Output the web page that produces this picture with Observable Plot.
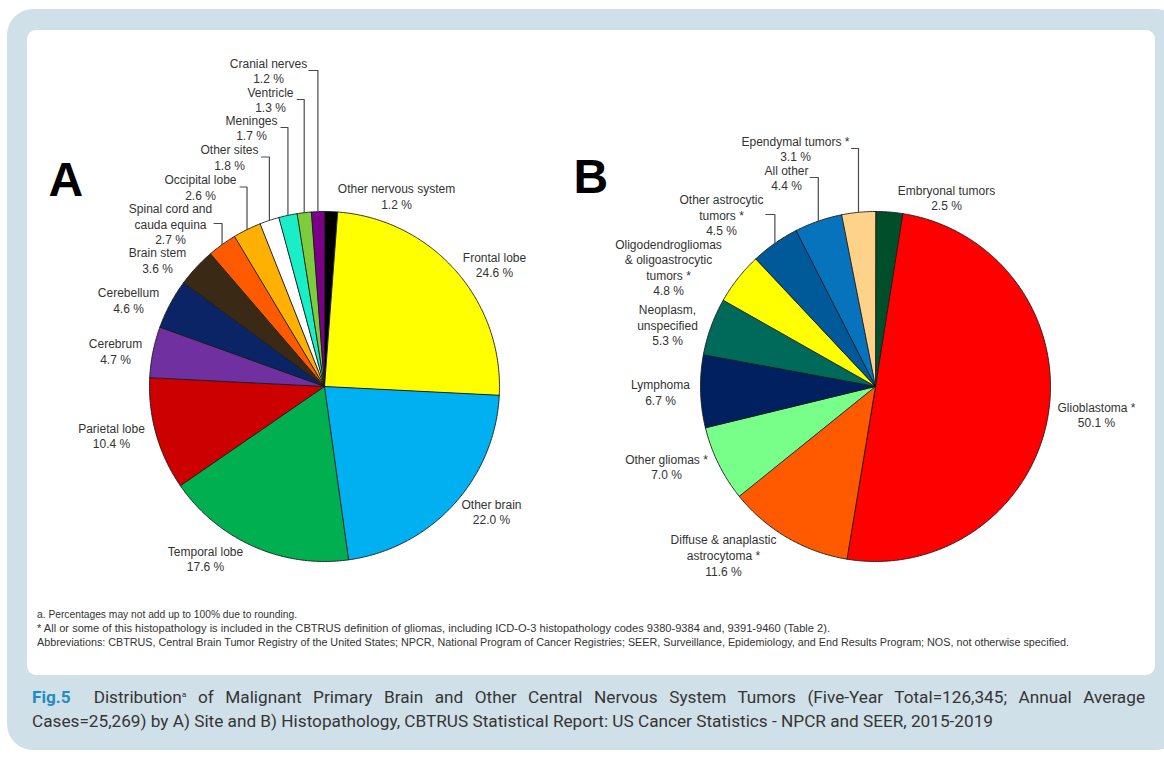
<!DOCTYPE html>
<html><head><meta charset="utf-8">
<script src="https://cdn.jsdelivr.net/npm/d3@7"></script>
<script src="https://cdn.jsdelivr.net/npm/@observablehq/plot@0.6"></script>
<style>
html,body{margin:0;padding:0;background:#fff;}
body{width:1164px;height:757px;position:relative;overflow:hidden;font-family:"Liberation Sans",Arial,sans-serif;}
#outer{position:absolute;left:7px;top:9px;width:1175px;height:741px;background:#d0e0e9;border-radius:26px;}
#panel{position:absolute;left:27px;top:30px;width:1128px;height:645px;background:#fff;border-radius:9px;}
#chart{position:absolute;left:0;top:0;}
#notes{position:absolute;left:37px;top:608px;font-family:"Liberation Sans",Arial,sans-serif;font-size:10px;line-height:14px;color:#333;white-space:nowrap;}
#notes span, #caption span{display:inline-block;white-space:nowrap;transform-origin:0 0;}
#caption{position:absolute;left:32px;top:686px;font-family:Roboto,"Liberation Sans",sans-serif;font-size:16px;line-height:24px;color:#353535;}
#caption b{color:#1f8dc4;font-weight:700;}
sup{font-size:8px;line-height:0;}
</style>
</head>
<body>
<div id="outer"></div>
<div id="panel"></div>
<div id="chart"></div>
<div id="notes">
<div><span id="n1">a. Percentages may not add up to 100% due to rounding.</span></div>
<div><span id="n2">* All or some of this histopathology is included in the CBTRUS definition of gliomas, including ICD-O-3 histopathology codes 9380-9384 and, 9391-9460 (Table 2).</span></div>
<div><span id="n3">Abbreviations: CBTRUS, Central Brain Tumor Registry of the United States; NPCR, National Program of Cancer Registries; SEER, Surveillance, Epidemiology, and End Results Program; NOS, not otherwise specified.</span></div>
</div>
<div id="caption">
<div><span id="c1"><b>Fig.5</b>&nbsp; Distribution<sup>a</sup> of Malignant Primary Brain and Other Central Nervous System Tumors (Five-Year Total=126,345; Annual Average</span></div>
<div><span id="c2">Cases=25,269) by A) Site and B) Histopathology, CBTRUS Statistical Report: US Cancer Statistics - NPCR and SEER, 2015-2019</span></div>
</div>
<script>
// ---- data: A) by site ----
const siteNames = ["Other nervous system","Frontal lobe","Other brain","Temporal lobe","Parietal lobe","Cerebrum","Cerebellum","Brain stem","Spinal cord and\ncauda equina","Occipital lobe","Other sites","Meninges","Ventricle","Cranial nerves"];
const siteValues = [1.2,24.6,22.0,17.6,10.4,4.7,4.6,3.6,2.7,2.6,1.8,1.7,1.3,1.2];
const siteColors = ["#000000","#ffff00","#00b0f0","#00b050","#cc0000","#7030a0","#0a2466","#3a2914","#ff5a00","#ffb000","#ffffff","#19eec6","#7ccc3c","#7a0086"];

// ---- data: B) by histopathology ----
const histNames = ["Embryonal tumors","Glioblastoma *","Diffuse & anaplastic\nastrocytoma *","Other gliomas *","Lymphoma","Neoplasm,\nunspecified","Oligodendrogliomas\n& oligoastrocytic\ntumors *","Other astrocytic\ntumors *","All other","Ependymal tumors *"];
const histValues = [2.5,50.1,11.6,7.0,6.7,5.3,4.8,4.5,4.4,3.1];
const histColors = ["#004f2a","#ff0000","#ff5a00","#78ff8a","#00205f","#006a5a","#ffff00","#005a9a","#0873bd","#ffd28a"];

const pieIds = ["A","B"];

// ---- layout (px, relative to pie centre) ----
const R = 175;
const siteLabelOffsets = [[72,-190.5],[170,-122],[167,125],[-119,172],[-213,49],[-209,-35.5],[-196,-86.5],[-167,-126.5],[-154,-163],[-124,-199.5],[-95,-229.5],[-73,-259],[-54,-287],[-56,-316]];
const siteLeaderLen = [0,0,0,0,0,0,0,0,8,7,8,7,7,9];
const histLabelOffsets = [[71,-189],[221,28],[-152,168.5],[-209,80],[-215,5.5],[-208,-62],[-207,-119.5],[-154,-172],[-89,-209],[-80,-238]];
const histLeaderLen = [0,0,0,0,0,0,0,9,8,7];
const letterOffsets = [[-276,206],[-302,209]];

const slicePts = [], leaderPts = [], labels = [], letters = [];
function buildPie(id, names, values, colors, offsets, leaders) {
  const arcs = d3.pie().sort(null).value(d => d)(values);
  arcs.forEach((a, i) => {
    const key = id + i;
    slicePts.push({pie: id, key, color: colors[i], x: 0, y: 0});
    const n = Math.max(2, Math.ceil((a.endAngle - a.startAngle) / (Math.PI / 360)));
    for (let k = 0; k <= n; k++) {
      const t = a.startAngle + (a.endAngle - a.startAngle) * k / n;
      slicePts.push({pie: id, key, color: colors[i], x: Math.sin(t), y: Math.cos(t)});
    }
    const [dx, dy] = offsets[i];
    labels.push({pie: id, x: dx / R, y: -dy / R, text: names[i] + "\n" + values[i].toFixed(1) + " %"});
    if (leaders[i] > 0) {
      const mid = (a.startAngle + a.endAngle) / 2;
      const xv = Math.sin(mid), ye = Math.cos(mid), lvl = -dy / R;
      leaderPts.push({pie: id, key, x: xv - leaders[i] / R, y: lvl});
      leaderPts.push({pie: id, key, x: xv, y: lvl});
      leaderPts.push({pie: id, key, x: xv, y: ye});
    }
  });
}
buildPie("A", siteNames, siteValues, siteColors, siteLabelOffsets, siteLeaderLen);
buildPie("B", histNames, histValues, histColors, histLabelOffsets, histLeaderLen);
pieIds.forEach((id, i) => letters.push({pie: id, x: letterOffsets[i][0] / R, y: letterOffsets[i][1] / R, text: id}));

const chart = Plot.plot({
  width: 1164, height: 600,
  marginLeft: 149, marginRight: 114, marginTop: 211, marginBottom: 39,
  x: {domain: [-1, 1], axis: null},
  y: {domain: [-1, 1], axis: null},
  fx: {domain: pieIds, axis: null, paddingInner: 201 / 551, paddingOuter: 0},
  color: {type: "identity"},
  style: {background: "transparent", fontFamily: "'Liberation Sans', Arial, sans-serif", overflow: "visible"},
  marks: [
    Plot.line(slicePts, {x: "x", y: "y", z: "key", fx: "pie", fill: d => d.color, stroke: "#1a1a1a", strokeWidth: 0.9, curve: "linear-closed", strokeLinejoin: "round"}),
    Plot.line(leaderPts, {x: "x", y: "y", z: "key", fx: "pie", stroke: "#4a4a4a", strokeWidth: 1.2}),
    Plot.text(labels, {x: "x", y: "y", fx: "pie", text: "text", fontSize: 12, lineHeight: 1.3, fill: "#333"}),
    Plot.text(letters, {x: "x", y: "y", fx: "pie", text: "text", fontSize: 48, fontWeight: "bold", textAnchor: "start", fill: "#000"})
  ]
});
document.getElementById("chart").appendChild(chart);

function fitScale(el, target) {
  const w = el.getBoundingClientRect().width;
  const s = target / w;
  el.style.transform = "scaleX(" + s + ")";
  return s;
}
fitScale(document.getElementById("n1"), 260);
fitScale(document.getElementById("n2"), 793);
fitScale(document.getElementById("n3"), 1032);
const c1 = document.getElementById("c1"), c2 = document.getElementById("c2");
const s = fitScale(c2, 961);
c1.style.transform = "scaleX(" + s + ")";
const w1 = c1.getBoundingClientRect().width / s;
const nSpaces = (c1.textContent.match(/[ \u00a0]/g) || []).length;
c1.style.wordSpacing = ((1113 / s - w1) / nSpaces) + "px";
// correct any residual error
const w1b = c1.getBoundingClientRect().width / s;
const cur = parseFloat(c1.style.wordSpacing);
c1.style.wordSpacing = (cur + (1113 / s - w1b) / nSpaces) + "px";
</script>
</body></html>
